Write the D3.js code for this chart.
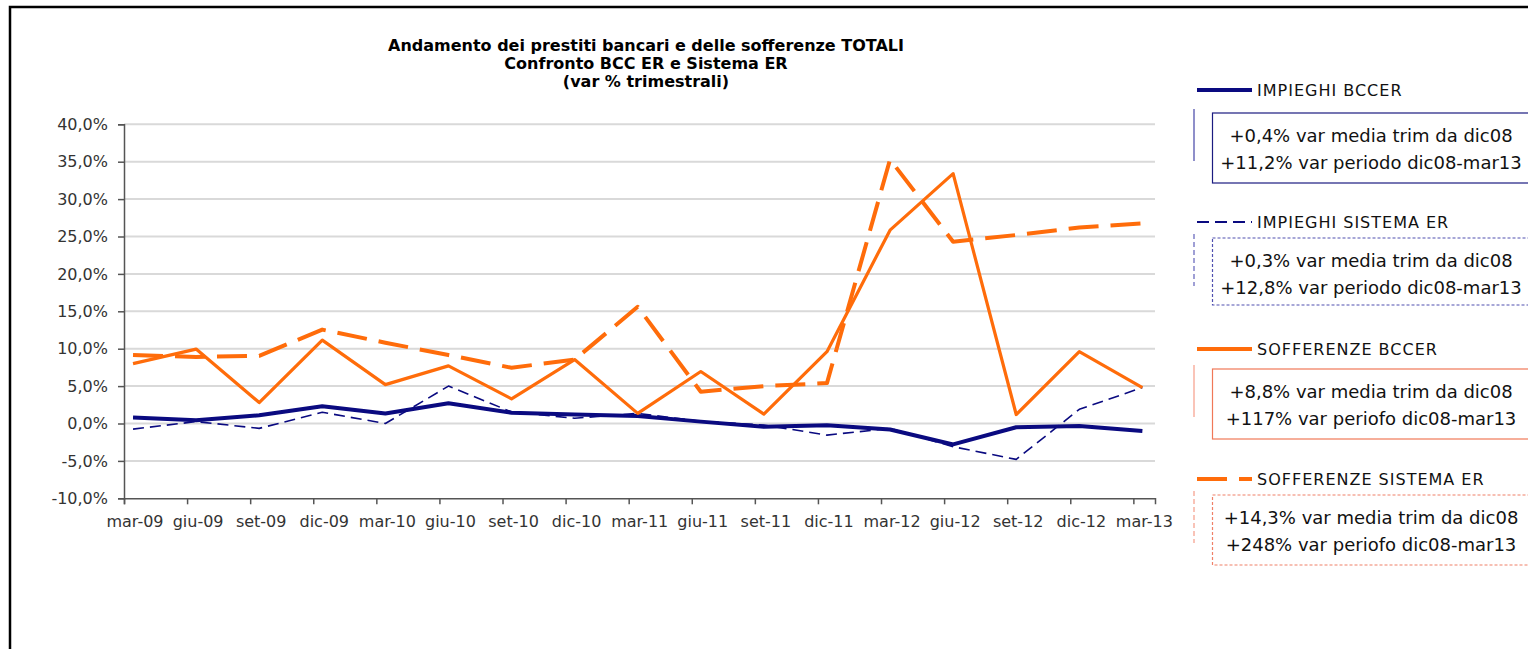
<!DOCTYPE html>
<html>
<head>
<meta charset="utf-8">
<script src="https://cdn.jsdelivr.net/npm/d3@7"></script>
<style>
  body { margin:0; background:#fff; }
  svg { display:block; font-family:"DejaVu Sans", Verdana, sans-serif; }
</style>
</head>
<body>
<div id="chart"></div>
<script>
// categories (trimestri)
var categories = ["mar-09","giu-09","set-09","dic-09","mar-10","giu-10","set-10","dic-10","mar-11","giu-11","set-11","dic-11","mar-12","giu-12","set-12","dic-12","mar-13"];
// var % trimestrali
var impieghiBcc     = [0.8, 0.45, 1.1, 2.3, 1.35, 2.7, 1.45, 1.2, 1.0, 0.25, -0.45, -0.25, -0.8, -2.8, -0.5, -0.35, -1.0];
var impieghiSistema = [-0.75, 0.25, -0.65, 1.5, 0.0, 5.0, 1.55, 0.7, 1.35, 0.3, -0.2, -1.55, -0.65, -3.1, -4.8, 1.9, 4.8];
var soffBcc         = [8.0, 9.95, 2.8, 11.15, 5.2, 7.7, 3.3, 8.55, 1.35, 6.95, 1.25, 9.6, 25.85, 33.4, 1.2, 9.6, 4.8];
var soffSistema     = [9.15, 8.9, 9.05, 12.55, 10.8, 9.15, 7.45, 8.55, 15.6, 4.25, 5.0, 5.4, 35.3, 24.3, 25.2, 26.2, 26.75];
var yTicks = [-10, -5, 0, 5, 10, 15, 20, 25, 30, 35, 40];

var titleLines = ["Andamento dei prestiti bancari e delle sofferenze TOTALI", "Confronto BCC ER e Sistema ER", "(var % trimestrali)"];

var navy = "#0a0a80", orange = "#ff6c0a";

var series = [
  {name:"IMPIEGHI BCCER", values:impieghiBcc, color:navy, width:4, dash:null,
   box:["+0,4% var media trim da dic08","+11,2% var periodo dic08-mar13"], boxColor:"#1c1c80", boxDash:null, barColor:"#6a6ab8"},
  {name:"IMPIEGHI SISTEMA ER", values:impieghiSistema, color:navy, width:1.6, dash:"11,6",
   box:["+0,3% var media trim da dic08","+12,8% var periodo dic08-mar13"], boxColor:"#5050b0", boxDash:"3,2", barColor:"#8080c8"},
  {name:"SOFFERENZE BCCER", values:soffBcc, color:orange, width:3.2, dash:null,
   box:["+8,8% var media trim da dic08","+117% var periofo dic08-mar13"], boxColor:"#f07858", boxDash:null, barColor:"#f8b0a0"},
  {name:"SOFFERENZE SISTEMA ER", values:soffSistema, color:orange, width:4, dash:"30,12",
   box:["+14,3% var media trim da dic08","+248% var periofo dic08-mar13"], boxColor:"#f08068", boxDash:"3,2", barColor:"#f8b0a0"}
];

var W = 1528, H = 649;
var svg = d3.select("#chart").append("svg").attr("width", W).attr("height", H);

// outer frame
svg.append("path").attr("d", "M10," + H + " V7 H" + W)
   .attr("fill","none").attr("stroke","#000").attr("stroke-width",2.5);

// scales
var x = d3.scaleLinear().domain([-0.143, 16.2]).range([124, 1155]);
var y = d3.scaleLinear().domain([-10, 40]).range([498.3, 124.3]);

// gridlines
svg.append("g").selectAll("line").data(yTicks.filter(function(d){return d > -10;})).enter()
   .append("line")
   .attr("x1", 124).attr("x2", 1155)
   .attr("y1", function(d){return y(d);}).attr("y2", function(d){return y(d);})
   .attr("stroke","#d9d9d9").attr("stroke-width",2);

// y axis
var yAxis = svg.append("g").attr("transform","translate(124,0)")
   .call(d3.axisLeft(y).tickValues(yTicks).tickSize(6).tickPadding(10)
         .tickFormat(function(d){return d3.format(".1f")(d).replace(".",",").replace("−","-") + "%";}));
yAxis.select(".domain").attr("stroke","#555").attr("stroke-width",1.5);
yAxis.selectAll(".tick line").attr("stroke","#555").attr("stroke-width",1.5);
yAxis.selectAll("text").attr("fill","#333").style("font-size","16px").style("font-family","DejaVu Sans");

// x axis
var xAxis = svg.append("g").attr("transform","translate(0,498.3)")
   .call(d3.axisBottom(x).tickValues(d3.range(17).map(function(i){return i - 0.143;})).tickSize(6).tickFormat(""));
xAxis.select(".domain").attr("stroke","#555").attr("stroke-width",1.5);
xAxis.selectAll(".tick line").attr("stroke","#555").attr("stroke-width",1.5);
svg.append("g").selectAll("text").data(categories).enter().append("text")
   .attr("x", function(d,i){return x(i) + 2;}).attr("y", 527)
   .attr("text-anchor","middle").attr("fill","#333").style("font-size","16px")
   .text(function(d){return d;});

// lines
var line = d3.line().x(function(d,i){return x(i);}).y(function(d){return y(d);});
var drawOrder = [1, 0, 3, 2];
drawOrder.forEach(function(k){
  var s = series[k];
  svg.append("path").datum(s.values)
     .attr("d", line).attr("fill","none")
     .attr("stroke", s.color).attr("stroke-width", s.width)
     .attr("stroke-dasharray", s.dash)
     .attr("stroke-linejoin","round");
});

// title
svg.append("g").selectAll("text").data(titleLines).enter().append("text")
   .attr("x", 646).attr("y", function(d,i){return 51 + i*18;})
   .attr("text-anchor","middle").style("font-size","16px").style("font-weight","bold")
   .attr("fill","#000").text(function(d){return d;});

// legend with boxes
var legLines = [90, 222, 349, 479];
var boxTops = [113, 238, 369, 495];
var boxH = [70, 67, 70, 70];
series.forEach(function(s, i){
  var ly = legLines[i];
  var g = svg.append("g");
  g.append("line").attr("x1",1197).attr("x2",1252).attr("y1",ly).attr("y2",ly)
   .attr("stroke", s.color).attr("stroke-width", i == 1 ? 2 : 4)
   .attr("stroke-dasharray", i == 1 ? "12,6" : (i == 3 ? "30,12" : null));
  g.append("text").attr("x",1257).attr("y",ly + 6).style("font-size","16px")
   .style("letter-spacing","1px").attr("fill","#111").text(s.name);
  var top = boxTops[i];
  g.append("line").attr("x1",1194).attr("x2",1194).attr("y1",top - 4).attr("y2",top + 48)
   .attr("stroke", s.barColor).attr("stroke-width",1.5)
   .attr("stroke-dasharray", s.boxDash ? "5,3" : null);
  g.append("rect").attr("x",1212.5).attr("y",top).attr("width",340).attr("height",boxH[i])
   .attr("fill","#fff").attr("stroke", s.boxColor).attr("stroke-width",1.2)
   .attr("stroke-dasharray", s.boxDash);
  g.selectAll(".bt").data(s.box).enter().append("text")
   .attr("x",1371).attr("y", function(d,j){return top + 29 + j*27;})
   .attr("text-anchor","middle").style("font-size","18px").attr("fill","#111")
   .text(function(d){return d;});
});
</script>
</body>
</html>
